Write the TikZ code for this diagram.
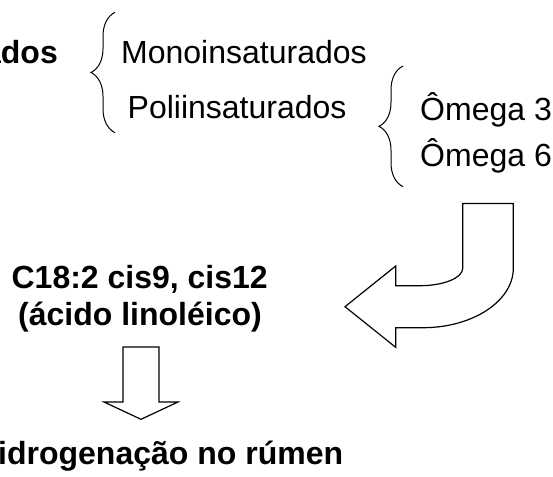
\documentclass[tikz,border=0pt]{standalone}
\usepackage{fontspec}
\setmainfont{Liberation Sans}
\usepackage{tikz}
\usetikzlibrary{decorations.pathreplacing}

\begin{document}
\begin{tikzpicture}[x=1pt,y=-1pt,
		txt/.style={font=\fontsize{32}{37}\selectfont,inner sep=0pt},
		btxt/.style={font=\fontsize{32}{37}\selectfont\bfseries,inner sep=0pt},
		chave/.style={line width=1pt,decorate,decoration={brace,amplitude=24pt,aspect=0.5}},
		seta/.style={line width=1.2pt,line join=miter}]
				\useasboundingbox (0,0) rectangle (553,476);
				% Texte
				\node[btxt,anchor=base east] (ados) at (58,64) {ados};
				\node[txt,anchor=base west] (mono) at (121,64) {Monoinsaturados};
				\node[txt,anchor=base west] (poli) at (127.5,118) {Poliinsaturados};
				\node[txt,anchor=base west] (om3) at (420,120) {Ômega 3};
				\node[txt,anchor=base west] (om6) at (420,166) {Ômega 6};
				\node[btxt,anchor=base] (c18) at (139.7,288) {C18:2 cis9, cis12};
				\node[btxt,anchor=base] (lino) at (140,325) {(ácido linoléico)};
				\node[btxt,anchor=base west] (bio) at (-2,464) {idrogenação no rúmen};
				% Chaves
				\draw[chave] (115,132.7) -- (115,12.3);
				\draw[chave] (403,186.7) -- (403,66);
				% Seta curva
				\draw[seta] (462.7,203.5) -- (513.3,203.5) -- (513.3,268.3)
				.. controls (513.3,301.1) and (472.7,327.7) .. (423,327.7)
				-- (395.7,327.7) -- (395.7,347.3) -- (345,306.7) -- (395.7,266)
				-- (395.7,285.7) -- (420,285.7)
				.. controls (443.6,285.7) and (462.7,277.9) .. (462.7,268.3) -- cycle;
				% Seta para baixo
				\draw[seta] (123,347) -- (159,347) -- (159,402) -- (178,402)
				-- (141,419.3) -- (104,402) -- (123,402) -- cycle;
			\end{tikzpicture}
\end{document}
